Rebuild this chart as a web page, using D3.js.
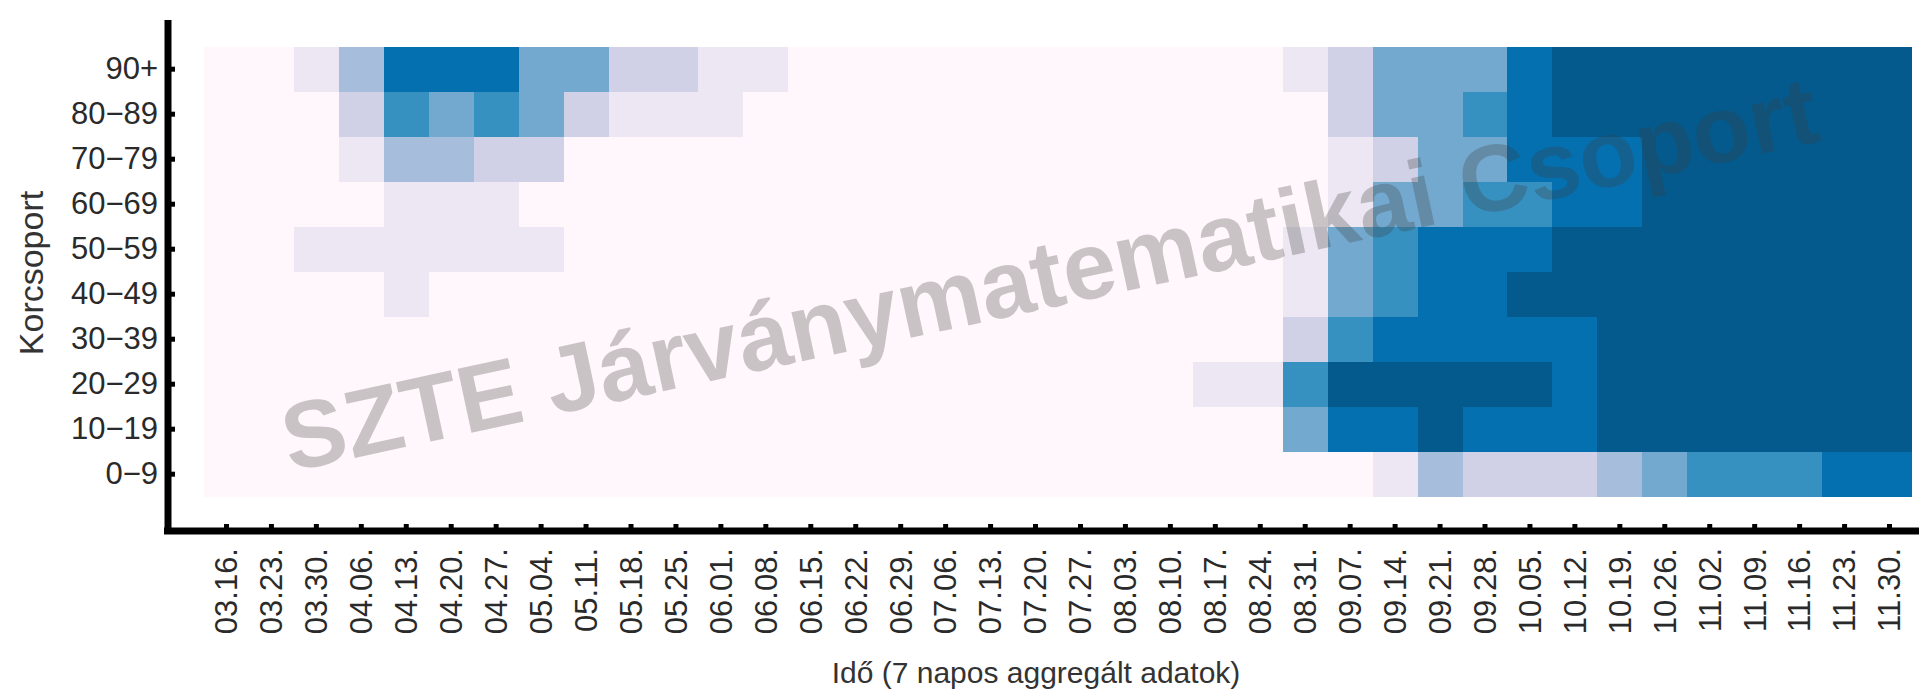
<!DOCTYPE html>
<html>
<head>
<meta charset="utf-8">
<script src="https://cdn.jsdelivr.net/npm/d3@7"></script>
<style>
body { margin: 0; background: #fff; }
svg text { font-family: "Liberation Sans", Arial, Helvetica, sans-serif; }
</style>
</head>
<body>
<div id="chart"></div>
<script>
var weeks = ["03.16.","03.23.","03.30.","04.06.","04.13.","04.20.","04.27.","05.04.","05.11.","05.18.",
             "05.25.","06.01.","06.08.","06.15.","06.22.","06.29.","07.06.","07.13.","07.20.","07.27.",
             "08.03.","08.10.","08.17.","08.24.","08.31.","09.07.","09.14.","09.21.","09.28.","10.05.",
             "10.12.","10.19.","10.26.","11.02.","11.09.","11.16.","11.23.","11.30."];

var ageGroups = ["0\u22129","10\u221219","20\u221229","30\u221239","40\u221249",
                 "50\u221259","60\u221269","70\u221279","80\u221289","90+"];

// colour class per week (0 = lowest, 7 = highest), one array per age group
var lvl0_9   = [0,0,0,0,0,0,0,0,0,0, 0,0,0,0,0,0,0,0,0,0, 0,0,0,0,0,0,1,3,2,2, 2,3,4,5,5,5,6,6];
var lvl10_19 = [0,0,0,0,0,0,0,0,0,0, 0,0,0,0,0,0,0,0,0,0, 0,0,0,0,4,6,6,7,6,6, 6,7,7,7,7,7,7,7];
var lvl20_29 = [0,0,0,0,0,0,0,0,0,0, 0,0,0,0,0,0,0,0,0,0, 0,0,1,1,5,7,7,7,7,7, 6,7,7,7,7,7,7,7];
var lvl30_39 = [0,0,0,0,0,0,0,0,0,0, 0,0,0,0,0,0,0,0,0,0, 0,0,0,0,2,5,6,6,6,6, 6,7,7,7,7,7,7,7];
var lvl40_49 = [0,0,0,0,1,0,0,0,0,0, 0,0,0,0,0,0,0,0,0,0, 0,0,0,0,1,4,5,6,6,7, 7,7,7,7,7,7,7,7];
var lvl50_59 = [0,0,1,1,1,1,1,1,0,0, 0,0,0,0,0,0,0,0,0,0, 0,0,0,0,1,4,5,6,6,6, 7,7,7,7,7,7,7,7];
var lvl60_69 = [0,0,0,0,1,1,1,0,0,0, 0,0,0,0,0,0,0,0,0,0, 0,0,0,0,0,1,4,4,5,5, 6,6,7,7,7,7,7,7];
var lvl70_79 = [0,0,0,1,3,3,2,2,0,0, 0,0,0,0,0,0,0,0,0,0, 0,0,0,0,0,1,2,4,4,6, 6,6,7,7,7,7,7,7];
var lvl80_89 = [0,0,0,2,5,4,5,4,2,1, 1,1,0,0,0,0,0,0,0,0, 0,0,0,0,0,2,4,4,5,6, 7,7,7,7,7,7,7,7];
var lvl90p   = [0,0,1,3,6,6,6,4,4,2, 2,1,1,0,0,0,0,0,0,0, 0,0,0,0,1,2,4,4,4,6, 7,7,7,7,7,7,7,7];

var rows = [lvl0_9, lvl10_19, lvl20_29, lvl30_39, lvl40_49, lvl50_59, lvl60_69, lvl70_79, lvl80_89, lvl90p];

var width = 1919, height = 694;

var svg = d3.select("#chart").append("svg")
    .attr("width", width)
    .attr("height", height);

var x = d3.scaleBand().domain(weeks).range([204, 1912]);
var y = d3.scaleBand().domain(ageGroups).range([496.7, 46.7]);

var color = d3.scaleOrdinal()
    .domain(d3.range(8))
    .range(d3.schemePuBu[9].slice(0, 8));

var cells = [];
ageGroups.forEach(function(age, r) {
  weeks.forEach(function(w, c) {
    cells.push({age: age, week: w, level: rows[r][c]});
  });
});

// heatmap cells, snapped to whole pixels so no seams show
svg.append("g")
  .attr("shape-rendering", "crispEdges")
  .selectAll("rect")
  .data(cells)
  .enter()
  .append("rect")
  .attr("x", d => Math.round(x(d.week)))
  .attr("y", d => Math.round(y(d.age)))
  .attr("width", d => Math.round(x(d.week) + x.bandwidth()) - Math.round(x(d.week)))
  .attr("height", d => Math.round(y(d.age) + y.bandwidth()) - Math.round(y(d.age)))
  .style("fill", d => color(d.level));

// watermark
svg.append("text")
  .attr("transform", "translate(290,472) rotate(-12.2)")
  .attr("font-size", 95)
  .attr("font-weight", "bold")
  .style("fill", "rgb(60,60,60)")
  .style("fill-opacity", 0.28)
  .text("SZTE Járványmatematikai Csoport");

// y axis
var yAxis = svg.append("g")
  .attr("transform", "translate(168,0)")
  .call(d3.axisLeft(y).tickSizeInner(-7).tickSizeOuter(0).tickPadding(10));
yAxis.select(".domain").remove();
yAxis.selectAll(".tick line").attr("stroke", "#000").attr("stroke-width", 5);
yAxis.selectAll(".tick text")
  .attr("font-size", 31)
  .style("fill", "#2a2a2a");

// x axis
var xAxis = svg.append("g")
  .attr("transform", "translate(0,531)")
  .call(d3.axisBottom(x).tickSizeInner(-7).tickSizeOuter(0));
xAxis.select(".domain").remove();
xAxis.selectAll(".tick line").attr("stroke", "#000").attr("stroke-width", 5);
xAxis.selectAll(".tick text")
  .attr("transform", "rotate(-90)")
  .attr("x", -17)
  .attr("y", 0)
  .attr("dy", "0.35em")
  .attr("text-anchor", "end")
  .attr("font-size", 31)
  .style("fill", "#2a2a2a");

// axis lines
svg.append("line")
  .attr("x1", 168).attr("x2", 168)
  .attr("y1", 20).attr("y2", 534)
  .attr("stroke", "#000").attr("stroke-width", 7);
svg.append("line")
  .attr("x1", 164).attr("x2", width)
  .attr("y1", 531).attr("y2", 531)
  .attr("stroke", "#000").attr("stroke-width", 7);

// axis titles
svg.append("text")
  .attr("x", 1036)
  .attr("y", 683)
  .attr("text-anchor", "middle")
  .attr("font-size", 30)
  .style("fill", "#333")
  .text("Idő (7 napos aggregált adatok)");

svg.append("text")
  .attr("transform", "translate(43,273) rotate(-90)")
  .attr("text-anchor", "middle")
  .attr("font-size", 34)
  .style("fill", "#333")
  .text("Korcsoport");
</script>
</body>
</html>
